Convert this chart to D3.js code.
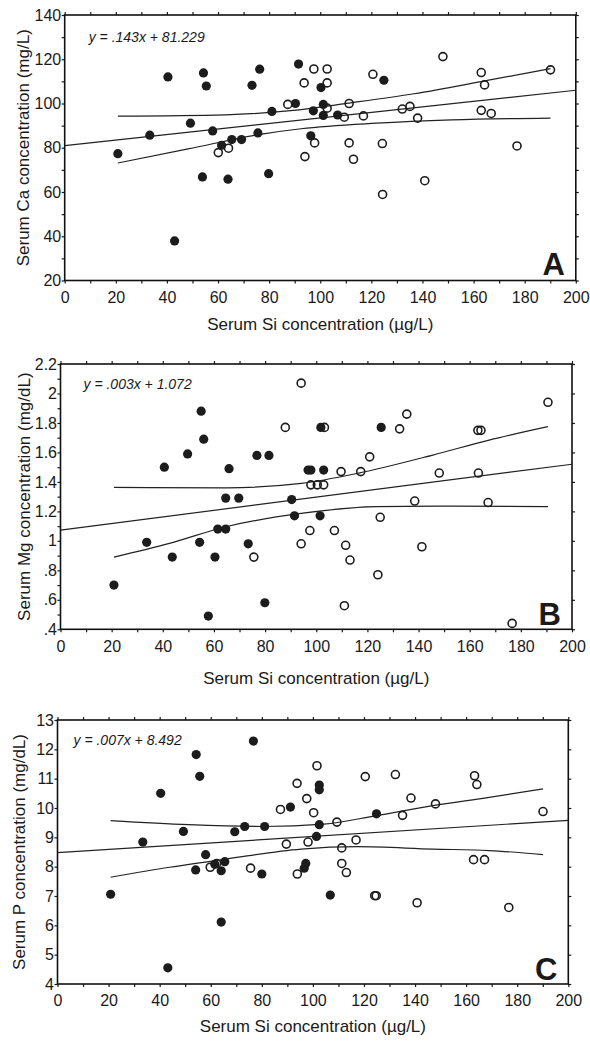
<!DOCTYPE html>
<html>
<head>
<meta charset="utf-8">
<script src="https://cdn.jsdelivr.net/npm/d3@7"></script>
<style>
  body { margin: 0; background: #fff; }
  svg text { font-family: "Liberation Sans", Arial, Helvetica, sans-serif; fill: #1a1a1a; }
</style>
</head>
<body>
<div id="chart"></div>
<script>
// x axis (Si) ticks, shared by all three panels
var siTicks = [0, 20, 40, 60, 80, 100, 120, 140, 160, 180, 200];
var siMinorTicks = [10, 30, 50, 70, 90, 110, 130, 150, 170, 190];

// Panel A - Ca
var caTicks = [20, 40, 60, 80, 100, 120, 140];
var caMinorTicks = [30, 50, 70, 90, 110, 130];
var caFilled = [[20.8,77.3],[33.3,85.7],[40.4,112.0],[43.0,37.9],[49.2,91.1],[53.9,66.8],[54.3,113.8],[55.4,107.9],[57.9,87.6],[61.4,81.1],[63.9,65.8],[65.4,83.7],[69.2,83.7],[73.3,108.2],[75.6,86.7],[76.3,115.5],[79.8,68.3],[81.1,96.4],[90.3,100.0],[91.5,117.8],[96.3,85.4],[97.3,96.7],[100.3,107.2],[101.2,99.6],[101.2,94.6],[106.8,94.8],[124.9,110.5]];
var caOpen = [[60.1,77.8],[64.1,79.8],[87.3,99.6],[93.7,109.3],[94.0,76.0],[97.5,115.6],[97.8,82.2],[102.7,115.6],[102.7,109.3],[102.7,97.9],[109.4,93.8],[111.3,100.0],[111.3,82.2],[113.0,74.8],[116.9,94.4],[120.6,113.2],[124.3,81.9],[124.4,58.9],[132.1,97.5],[135.1,98.7],[138.1,93.4],[140.9,65.1],[148.0,121.2],[163.0,114.0],[163.0,96.9],[164.3,108.4],[166.9,95.5],[177.0,80.8],[190.1,115.2]];
var caFit = [[0,81.0],[200,106.0]];
var caUpper = [[20.8,94.3],[63.0,94.9],[89.5,96.9],[111.3,100.2],[136.7,104.4],[164.3,110.2],[190.1,115.8]];
var caLower = [[20.8,73.1],[48.3,79.5],[77.8,86.3],[92.5,88.6],[121.9,91.1],[151.4,92.6],[190.1,93.4]];

// Panel B - Mg
var mgTicks = [0.4, 0.6, 0.8, 1.0, 1.2, 1.4, 1.6, 1.8, 2.0, 2.2];
var mgTickLabels = [".4", ".6", ".8", "1", "1.2", "1.4", "1.6", "1.8", "2", "2.2"];
var mgMinorTicks = [0.5, 0.7, 0.9, 1.1, 1.3, 1.5, 1.7, 1.9, 2.1];
var mgFilled = [[20.9,0.70],[33.7,0.99],[40.6,1.50],[43.7,0.89],[49.7,1.59],[54.4,0.99],[55.0,1.88],[56.0,1.69],[57.8,0.49],[60.4,0.89],[61.5,1.08],[64.6,1.08],[64.6,1.29],[65.9,1.49],[69.7,1.29],[73.4,0.98],[76.8,1.58],[79.9,0.58],[81.5,1.58],[90.4,1.28],[91.5,1.17],[96.8,1.48],[97.9,1.48],[101.5,1.17],[101.8,1.77],[102.9,1.48],[125.4,1.77]];
var mgOpen = [[75.6,0.89],[87.9,1.77],[94.1,2.07],[94.1,0.98],[97.5,1.07],[97.9,1.38],[100.4,1.38],[102.9,1.38],[103.2,1.77],[107.1,1.07],[109.7,1.47],[111.0,0.56],[111.5,0.97],[113.2,0.87],[117.4,1.47],[120.9,1.57],[124.1,0.77],[125.0,1.16],[132.6,1.76],[135.4,1.86],[138.5,1.27],[141.3,0.96],[148.1,1.46],[163.2,1.75],[164.4,1.75],[163.4,1.46],[167.2,1.26],[176.6,0.44],[190.6,1.94]];
var mgFit = [[0,1.073],[200,1.52]];
var mgUpper = [[20.9,1.363],[64.7,1.36],[94.1,1.39],[116.2,1.458],[145.6,1.582],[167.6,1.684],[190.6,1.775]];
var mgLower = [[20.9,0.89],[42.6,0.983],[64.7,1.096],[94.1,1.186],[123.5,1.232],[152.9,1.236],[190.6,1.232]];

// Panel C - P
var pTicks = [4, 5, 6, 7, 8, 9, 10, 11, 12, 13];
var pMinorTicks = [];
var pFilled = [[20.8,7.06],[33.4,8.84],[40.4,10.5],[43.2,4.55],[49.3,9.2],[54.1,7.89],[54.3,11.82],[55.7,11.08],[58.0,8.41],[61.6,8.08],[64.1,7.86],[64.1,6.11],[65.5,8.17],[69.4,9.19],[73.3,9.37],[76.7,12.28],[80.0,7.75],[81.1,9.37],[91.2,10.03],[96.6,7.95],[97.2,8.11],[101.4,9.03],[102.5,10.78],[102.5,10.62],[102.5,9.43],[106.8,7.03],[124.9,9.8]];
var pOpen = [[59.8,7.98],[62.3,8.11],[75.6,7.95],[87.3,9.95],[89.6,8.77],[93.8,10.84],[93.9,7.75],[97.6,10.32],[98.1,8.84],[100.3,9.84],[101.6,11.44],[109.4,9.52],[111.3,8.64],[111.3,8.11],[113.1,7.8],[116.9,8.91],[120.5,11.07],[124.2,7.01],[124.8,7.01],[132.3,11.14],[135.1,9.75],[138.4,10.34],[140.8,6.77],[148.0,10.14],[162.9,8.24],[163.3,11.1],[164.2,10.8],[167.2,8.24],[176.7,6.61],[190.1,9.88]];
var pFit = [[0,8.48],[200,9.58]];
var pUpper = [[20.8,9.57],[51.3,9.43],[80.7,9.37],[104.3,9.45],[124.9,9.74],[147,10.08],[169,10.36],[190.1,10.65]];
var pLower = [[20.8,7.64],[43.9,7.98],[66,8.26],[95.4,8.6],[117.5,8.68],[147,8.6],[169,8.55],[190.1,8.41]];

var svgWidth = 590;
var svgHeight = 1048;

var svg = d3.select("#chart")
  .append("svg")
  .attr("width", svgWidth)
  .attr("height", svgHeight);

var panels = [
  { left: 64.7, right: 575.8, top: 15, bottom: 280.5, domain: [20, 140],
    ticks: caTicks, labels: caTicks.map(String), minor: caMinorTicks, rightTicks: caTicks.concat(caMinorTicks),
    filled: caFilled, open: caOpen, fit: caFit, upper: caUpper, lower: caLower,
    eq: "y = .143x + 81.229", eqDx: 24, eqDy: 27, letter: "A", letterDy: 6,
    yTitle: "Serum Ca concentration (mg/L)", yTitleX: 28.5, xTitleDy: 49 },
  { left: 60.5, right: 572, top: 364, bottom: 629.3, domain: [0.4, 2.2],
    ticks: mgTicks, labels: mgTickLabels, minor: mgMinorTicks, rightTicks: mgTicks,
    filled: mgFilled, open: mgOpen, fit: mgFit, upper: mgUpper, lower: mgLower,
    eq: "y = .003x + 1.072", eqDx: 23, eqDy: 25, letter: "B", letterDy: 4,
    yTitle: "Serum Mg concentration (mg/dL)", yTitleX: 29.5, xTitleDy: 55 },
  { left: 57.5, right: 568.3, top: 720, bottom: 984, domain: [4, 13],
    ticks: pTicks, labels: pTicks.map(String), minor: pMinorTicks, rightTicks: pTicks,
    filled: pFilled, open: pOpen, fit: pFit, upper: pUpper, lower: pLower,
    eq: "y = .007x + 8.492", eqDx: 16, eqDy: 25, letter: "C", letterDy: 4,
    yTitle: "Serum P concentration (mg/dL)", yTitleX: 25, xTitleDy: 48 }
];

panels.forEach(function(p) {
  var xScale = d3.scaleLinear().domain([0, 200]).range([p.left, p.right]);
  var yScale = d3.scaleLinear().domain(p.domain).range([p.bottom, p.top]);
  var g = svg.append("g");

  // bottom axis with labels
  var bottom = g.append("g")
    .attr("transform", `translate(0, ${p.bottom})`)
    .call(d3.axisBottom(xScale).tickValues(siTicks).tickSize(3).tickSizeOuter(0).tickPadding(8));
  bottom.append("g")
    .call(d3.axisBottom(xScale).tickValues(siMinorTicks).tickSize(3).tickSizeOuter(0).tickFormat(""));

  // top axis, ticks only
  g.append("g")
    .attr("transform", `translate(0, ${p.top})`)
    .call(d3.axisTop(xScale).tickValues(siTicks.concat(siMinorTicks)).tickSize(3).tickSizeOuter(0).tickFormat(""));

  // left axis with labels
  var left = g.append("g")
    .attr("transform", `translate(${p.left}, 0)`)
    .call(d3.axisLeft(yScale).tickValues(p.ticks).tickSize(3).tickSizeOuter(0).tickPadding(0.5)
      .tickFormat(function(d, i) { return p.labels[i]; }));
  left.append("g")
    .call(d3.axisLeft(yScale).tickValues(p.minor).tickSize(3).tickSizeOuter(0).tickFormat(""));

  // right axis, ticks only
  g.append("g")
    .attr("transform", `translate(${p.right}, 0)`)
    .call(d3.axisRight(yScale).tickValues(p.rightTicks).tickSize(3).tickSizeOuter(0).tickFormat(""));

  g.selectAll(".domain").remove();
  g.selectAll(".tick line").attr("stroke", "#1a1a1a").attr("stroke-width", 1.2);
  g.selectAll(".tick text")
    .attr("font-size", "16px")
    .attr("font-family", "'Liberation Sans', Arial, sans-serif")
    .attr("fill", "#1a1a1a");

  // frame
  g.append("rect")
    .attr("x", p.left)
    .attr("y", p.top)
    .attr("width", p.right - p.left)
    .attr("height", p.bottom - p.top)
    .attr("fill", "none")
    .attr("stroke", "#111")
    .attr("stroke-width", 1.6);

  // regression line and confidence bands
  var line = d3.line()
    .x(d => xScale(d[0]))
    .y(d => yScale(d[1]))
    .curve(d3.curveMonotoneX);

  [p.fit, p.upper, p.lower].forEach(function(series) {
    g.append("path")
      .datum(series)
      .attr("d", line)
      .attr("fill", "none")
      .attr("stroke", "#222")
      .attr("stroke-width", 1.2);
  });

  // points: filled first, open rings on top
  g.selectAll("circle.filled")
    .data(p.filled)
    .enter()
    .append("circle")
    .attr("class", "filled")
    .attr("cx", d => xScale(d[0]))
    .attr("cy", d => yScale(d[1]))
    .attr("r", 4.6)
    .attr("fill", "#1c1c1c");

  g.selectAll("circle.open")
    .data(p.open)
    .enter()
    .append("circle")
    .attr("class", "open")
    .attr("cx", d => xScale(d[0]))
    .attr("cy", d => yScale(d[1]))
    .attr("r", 4.0)
    .attr("fill", "none")
    .attr("stroke", "#1c1c1c")
    .attr("stroke-width", 1.6);

  // regression equation
  g.append("text")
    .attr("x", p.left + p.eqDx)
    .attr("y", p.top + p.eqDy)
    .attr("font-size", "14px")
    .attr("font-style", "italic")
    .text(p.eq);

  // panel letter
  g.append("text")
    .attr("x", p.right - 11)
    .attr("y", p.bottom - p.letterDy)
    .attr("text-anchor", "end")
    .attr("font-size", "31px")
    .attr("font-weight", "bold")
    .text(p.letter);

  // axis titles
  g.append("text")
    .attr("transform", `translate(${p.yTitleX}, ${(p.top + p.bottom) / 2}) rotate(-90)`)
    .attr("text-anchor", "middle")
    .attr("font-size", "17px")
    .text(p.yTitle);

  g.append("text")
    .attr("x", (p.left + p.right) / 2)
    .attr("y", p.bottom + p.xTitleDy)
    .attr("text-anchor", "middle")
    .attr("font-size", "17px")
    .text("Serum Si concentration (\u00b5g/L)");
});
</script>
</body>
</html>
